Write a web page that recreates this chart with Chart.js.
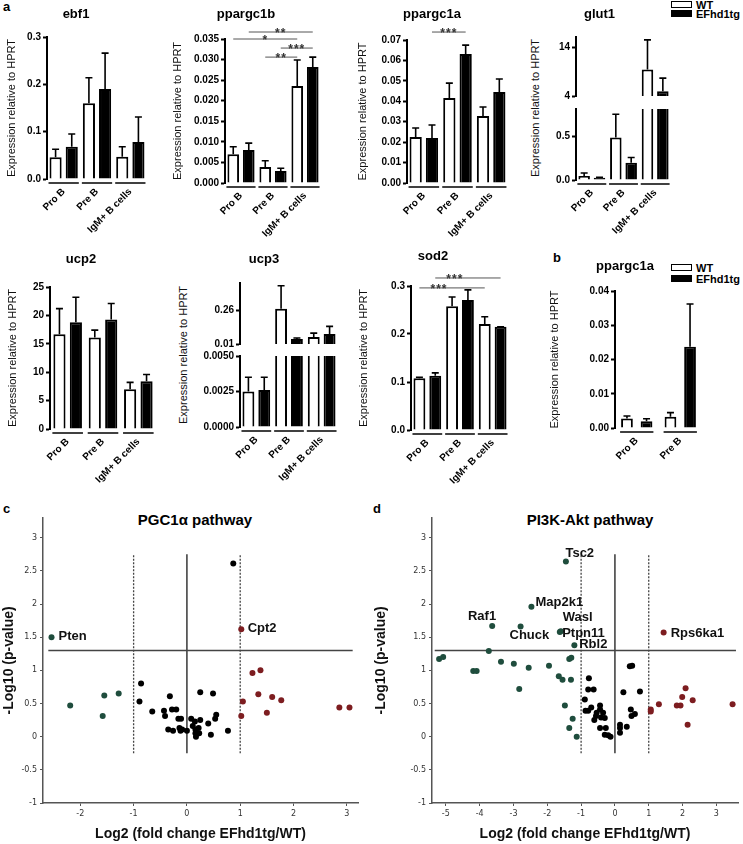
<!DOCTYPE html>
<html>
<head>
<meta charset="utf-8">
<script src="https://cdn.jsdelivr.net/npm/chart.js@4.4.1/dist/chart.umd.min.js"></script>
<style>
  body { margin: 0; width: 743px; height: 844px; position: relative; overflow: hidden; background: #fff;
         font-family: "Liberation Sans", Arial, sans-serif; color: #000; }
  canvas { position: absolute; }
  .letter { position: absolute; font-weight: bold; font-size: 13px; line-height: 13px; }
  .lg { position: absolute; font-weight: bold; font-size: 11px; line-height: 12px; white-space: nowrap; }
  .sw { position: absolute; width: 21px; box-sizing: border-box; border: 1.5px solid #000; }
  .ptitle { position: absolute; font-weight: bold; font-size: 15px; white-space: nowrap; transform: translate(-50%, -50%); }
  .vlab { position: absolute; font-size: 11px; color: #111; white-space: nowrap; transform: translate(-50%, -50%) rotate(-90deg); }
</style>
</head>
<body>
<div class="letter" style="left:3px;top:0px">a</div>
<div class="letter" style="left:553px;top:251px">b</div>
<div class="letter" style="left:3px;top:502px">c</div>
<div class="letter" style="left:373px;top:502px">d</div>

<div class="sw" style="left:671px;top:1px;height:7px;background:#fff"></div>
<div class="lg" style="left:696px;top:-1px">WT</div>
<div class="sw" style="left:671px;top:10px;height:7px;background:#000"></div>
<div class="lg" style="left:696px;top:8px">EFhd1tg</div>

<div class="sw" style="left:671px;top:264px;height:7px;background:#fff"></div>
<div class="lg" style="left:696px;top:262px">WT</div>
<div class="sw" style="left:671px;top:275px;height:7px;background:#000"></div>
<div class="lg" style="left:696px;top:273px">EFhd1tg</div>

<div class="vlab" style="left:535px;top:108px">Expression relative to HPRT</div>
<div class="vlab" style="left:183px;top:355px">Expression relative to HPRT</div>

<div class="ptitle" style="left:195px;top:519px">PGC1α pathway</div>
<div class="ptitle" style="left:590px;top:519px">PI3K-Akt pathway</div>

<script>
// ---------- data ----------
const groups = ["Pro B", "Pre B", "IgM+ B cells"];
const groupsB = ["Pro B", "Pre B"];
const yLabel = "Expression relative to HPRT";

// error arrays hold the top of each error bar (mean + SEM)
const ebf1WT = [0.046, 0.16, 0.047];
const ebf1WTErr = [0.063, 0.214, 0.068];
const ebf1Tg = [0.068, 0.19, 0.078];
const ebf1TgErr = [0.095, 0.266, 0.131];
const ebf1Ticks = ["0.0", "0.1", "0.2", "0.3"];

const ppargc1bWT = [0.0070, 0.0039, 0.0236];
const ppargc1bWTErr = [0.0088, 0.0054, 0.0299];
const ppargc1bTg = [0.0080, 0.0029, 0.0282];
const ppargc1bTgErr = [0.0097, 0.0036, 0.0306];
const ppargc1bTicks = ["0.000", "0.005", "0.010", "0.015", "0.020", "0.025", "0.030", "0.035"];
// [from group, from series, to group, to series, height, stars, label position along line]
const ppargc1bSig = [
  [0, 1, 2, 1, 0.0367, "**", 0.5],
  [0, 0, 2, 0, 0.0350, "*", 0.5],
  [1, 1, 2, 1, 0.0328, "***", 0.5],
  [1, 0, 2, 0, 0.0306, "**", 0.5],
];

const ppargc1aWT = [0.0225, 0.0416, 0.0328];
const ppargc1aWTErr = [0.0269, 0.0489, 0.0372];
const ppargc1aTg = [0.0220, 0.0631, 0.0445];
const ppargc1aTgErr = [0.0284, 0.0675, 0.0509];
const ppargc1aTicks = ["0.00", "0.01", "0.02", "0.03", "0.04", "0.05", "0.06", "0.07"];
const ppargc1aSig = [[0, 1, 1, 1, 0.0739, "***", 0.5]];

const glut1WT = [0.045, 0.49, 9.5];
const glut1WTErr = [0.08, 0.76, 15.6];
const glut1Tg = [0.025, 0.2, 5.0];
const glut1TgErr = [0.03, 0.26, 7.7];
const glut1LowTicks = ["0.0", "0.5"];
const glut1HighTicks = ["4", "14"];

const ucp2WT = [16.7, 16.1, 7.0];
const ucp2WTErr = [21.2, 17.4, 8.2];
const ucp2Tg = [18.8, 19.3, 8.4];
const ucp2TgErr = [23.2, 22.1, 9.6];
const ucp2Ticks = ["0", "5", "10", "15", "20", "25"];

const ucp3WT = [0.0025, 0.27, 0.061];
const ucp3WTErr = [0.0035, 0.44, 0.09];
const ucp3Tg = [0.0026, 0.047, 0.083];
const ucp3TgErr = [0.0035, 0.054, 0.14];
const ucp3LowTicks = ["0.0000", "0.0025", "0.0050"];
const ucp3HighTicks = ["0.01", "0.26"];

const sod2WT = [0.108, 0.258, 0.221];
const sod2WTErr = [0.110, 0.277, 0.236];
const sod2Tg = [0.113, 0.271, 0.215];
const sod2TgErr = [0.119, 0.292, 0.215];
const sod2Ticks = ["0.0", "0.1", "0.2", "0.3"];
const sod2Sig = [
  [0, 1, 2, 1, 0.3167, "***", 0.3],
  [0, 0, 2, 0, 0.2960, "***", 0.3],
];

const bWT = [0.0028, 0.0033];
const bWTErr = [0.0035, 0.0045];
const bTg = [0.0020, 0.0237];
const bTgErr = [0.0027, 0.0362];
const bTicks = ["0.00", "0.01", "0.02", "0.03", "0.04"];

// volcano plots: [log2 fold change, -log10 p]
const pValueTicks = ["-1", "-0.5", "0", "0.5", "1", "1.5", "2", "2.5", "3"];
const cFoldTicks = ["-2", "-1", "0", "1", "2", "3"];
const dFoldTicks = ["-5", "-4", "-3", "-2", "-1", "0", "1", "2", "3"];
const pThreshold = 1.3;

const cDown = [[-2.54, 1.50], [-2.19, 0.47], [-1.55, 0.62], [-1.58, 0.31], [-1.28, 0.65]];
const cNone = [
  [0.87, 2.61], [-0.86, 0.80], [-0.89, 0.53], [-0.65, 0.38], [-0.43, 0.39], [-0.41, 0.31],
  [-0.32, 0.61], [-0.28, 0.41], [-0.20, 0.41], [0.25, 0.67], [0.49, 0.65], [-0.35, 0.11],
  [-0.26, 0.09], [-0.16, 0.27], [-0.11, 0.27], [-0.14, 0.13], [-0.12, 0.09], [-0.09, 0.11],
  [0.00, 0.09], [0.08, 0.27], [0.11, 0.16], [0.15, 0.23], [0.16, 0.11], [0.22, 0.13],
  [0.25, 0.25], [0.16, 0.05], [0.17, 0.00], [0.23, 0.05], [0.40, 0.20], [0.45, 0.03],
  [0.53, 0.27], [0.55, 0.33], [0.77, 0.09],
];
const cUp = [
  [1.02, 1.62], [1.23, 0.96], [1.38, 1.00], [1.05, 0.53], [1.02, 0.31], [1.34, 0.64],
  [1.60, 0.60], [1.77, 0.55], [1.50, 0.36], [2.86, 0.44], [3.05, 0.44],
];
// [gene, x, y, align]
const cGenes = [["Pten", -2.41, 1.51, "left"], ["Cpt2", 1.14, 1.63, "left"]];

const dDown = [
  [-1.45, 2.64], [-2.47, 1.96], [-3.63, 1.67], [-2.79, 1.66], [-1.63, 1.58], [-1.60, 1.59],
  [-1.20, 1.38], [-5.20, 1.17], [-5.08, 1.20], [-3.73, 1.29], [-3.37, 1.13], [-2.99, 1.10],
  [-2.55, 1.04], [-1.95, 1.07], [-4.19, 0.99], [-4.09, 0.99], [-2.83, 0.72], [-1.66, 0.91],
  [-1.55, 0.86], [-1.35, 1.17], [-1.29, 1.19], [-1.30, 0.86], [-1.48, 0.47], [-1.25, 0.27],
  [-1.35, 0.13], [-1.13, 0.00],
];
const dNone = [
  [-0.77, 0.88], [-0.79, 0.71], [-0.63, 0.71], [-0.89, 0.56], [-0.87, 0.39], [-0.79, 0.39],
  [-0.70, 0.44], [-0.44, 0.47], [-0.44, 0.41], [-0.54, 0.36], [-0.56, 0.31], [-0.41, 0.29],
  [-0.35, 0.36], [-0.30, 0.28], [-0.61, 0.25], [-0.44, 0.13], [-0.27, 0.13], [-0.30, 0.03],
  [-0.20, 0.02], [-0.13, 0.00], [0.15, 0.18], [0.15, 0.13], [0.15, 0.06], [0.25, 0.67],
  [0.35, 0.15], [0.44, 1.06], [0.51, 1.07], [0.47, 0.41], [0.49, 0.31], [0.59, 0.34],
  [0.74, 0.68],
];
const dUp = [
  [1.44, 1.57], [1.06, 0.41], [1.06, 0.38], [1.30, 0.49], [1.83, 0.47], [1.94, 0.47],
  [1.99, 0.60], [2.09, 0.73], [2.30, 0.55], [2.15, 0.18], [3.48, 0.49],
];
const dGenes = [
  ["Tsc2", -1.04, 2.76, "center"], ["Map2k1", -2.35, 2.02, "left"], ["Raf1", -3.93, 1.81, "center"],
  ["Chuck", -2.53, 1.52, "center"], ["Wasl", -1.10, 1.80, "center"], ["Ptpn11", -0.93, 1.55, "center"],
  ["Rbl2", -0.64, 1.39, "center"], ["Rps6ka1", 1.65, 1.55, "left"],
];

// ---------- drawing ----------
Chart.defaults.font.family = '"Liberation Sans", Arial, sans-serif';
Chart.defaults.color = "#000";
Chart.defaults.animation = false;

function makeCanvas(left, top, width, height) {
  const c = document.createElement("canvas");
  c.width = width;
  c.height = height;
  c.style.left = left + "px";
  c.style.top = top + "px";
  c.style.width = width + "px";
  c.style.height = height + "px";
  document.body.appendChild(c);
  return c;
}

const errorBars = {
  id: "errorBars",
  afterDatasetsDraw(chart) {
    const { ctx, chartArea: a, scales: { y } } = chart;
    ctx.save();
    ctx.beginPath();
    ctx.rect(a.left, a.top - 2, a.right - a.left, a.bottom - a.top + 2);
    ctx.clip();
    ctx.strokeStyle = "#000";
    ctx.lineWidth = 1.6;
    chart.data.datasets.forEach((ds, i) => {
      chart.getDatasetMeta(i).data.forEach((bar, j) => {
        const top = y.getPixelForValue(ds.errors[j]);
        ctx.beginPath();
        ctx.moveTo(bar.x, bar.y);
        ctx.lineTo(bar.x, top);
        ctx.moveTo(bar.x - 3.5, top);
        ctx.lineTo(bar.x + 3.5, top);
        ctx.stroke();
      });
    });
    ctx.restore();
  },
};

function groupLines(show) {
  return {
    id: "groupLines",
    afterDatasetsDraw(chart) {
      if (!show) {
        return;
      }
      const { ctx, chartArea: a } = chart;
      const first = chart.getDatasetMeta(0).data;
      const second = chart.getDatasetMeta(1).data;
      ctx.save();
      ctx.strokeStyle = "#000";
      ctx.lineWidth = 1.5;
      first.forEach((bar, i) => {
        ctx.beginPath();
        ctx.moveTo(bar.x - bar.width / 2 - 1, a.bottom + 4);
        ctx.lineTo(second[i].x + second[i].width / 2 + 1, a.bottom + 4);
        ctx.stroke();
      });
      ctx.restore();
    },
  };
}

function sigLines(lines) {
  return {
    id: "sigLines",
    afterDatasetsDraw(chart) {
      const { ctx, scales: { y } } = chart;
      ctx.save();
      ctx.strokeStyle = "#555";
      ctx.lineWidth = 1;
      ctx.fillStyle = "#333";
      ctx.font = 'bold 12px "Liberation Sans", Arial, sans-serif';
      ctx.letterSpacing = "1px";
      ctx.textAlign = "center";
      ctx.textBaseline = "alphabetic";
      lines.forEach(([g1, s1, g2, s2, value, stars, t]) => {
        const x1 = chart.getDatasetMeta(s1).data[g1].x;
        const x2 = chart.getDatasetMeta(s2).data[g2].x;
        const py = y.getPixelForValue(value);
        ctx.beginPath();
        ctx.moveTo(x1, py);
        ctx.lineTo(x2, py);
        ctx.stroke();
        ctx.fillText(stars, x1 + (x2 - x1) * t, py + 5);
      });
      ctx.restore();
    },
  };
}

function barPanel(p) {
  const canvas = makeCanvas(p.left, p.top, p.width, p.height);
  const ticks = p.ticks;
  return new Chart(canvas, {
    type: "bar",
    data: {
      labels: p.labels,
      datasets: [
        { label: "WT", data: p.wt, errors: p.wtErr, backgroundColor: "#fff", borderColor: "#000", borderWidth: 2, clip: 0 },
        { label: "EFhd1tg", data: p.tg, errors: p.tgErr, backgroundColor: "#000", borderColor: "#000", borderWidth: 2, clip: 0 },
      ],
    },
    options: {
      responsive: false,
      animation: false,
      datasets: { bar: { categoryPercentage: p.cat || 0.97, barPercentage: p.bar || 0.75 } },
      layout: { padding: { top: p.padTop || 0, right: p.padRight, bottom: p.padBottom || 0, left: 0 } },
      plugins: {
        legend: { display: false },
        tooltip: { enabled: false },
        title: {
          display: !!p.title,
          text: p.title || "",
          color: "#000",
          font: { size: 13, weight: "bold" },
          padding: { top: 0, bottom: p.titleGap || 0 },
        },
      },
      scales: {
        x: {
          display: p.showX,
          offset: true,
          grid: { display: false, drawTicks: false },
          border: { display: false },
          ticks: { minRotation: 45, maxRotation: 45, autoSkip: false, padding: 7, color: "#000", font: { size: 10, weight: "bold" } },
          afterFit: p.showX ? (s) => { s.height = p.xh; } : undefined,
        },
        y: {
          min: p.min,
          max: p.max,
          border: { color: "#000", width: 2 },
          grid: { drawOnChartArea: false, tickLength: 4, tickWidth: 2, tickColor: "#000" },
          ticks: { padding: 2, autoSkip: false, color: "#000", font: { size: 10, weight: "bold" }, callback: (v, i) => ticks[i] },
          afterBuildTicks: (s) => { s.ticks = ticks.map((t) => ({ value: parseFloat(t) })); },
          afterFit: (s) => { s.width = p.yw; },
          title: { display: p.yTitle !== false, text: yLabel, color: "#111", font: { size: 11 }, padding: { top: 0, bottom: 0 } },
        },
      },
    },
    plugins: [errorBars, groupLines(p.showX), sigLines(p.sig || [])],
  });
}

function volcanoLines(p) {
  return {
    id: "volcanoLines",
    beforeDatasetsDraw(chart) {
      const { ctx, scales: { x, y } } = chart;
      ctx.save();
      ctx.strokeStyle = "#444";
      ctx.lineWidth = 1.6;
      ctx.beginPath();
      ctx.moveTo(x.getPixelForValue(p.hFrom), y.getPixelForValue(pThreshold));
      ctx.lineTo(x.getPixelForValue(p.hTo), y.getPixelForValue(pThreshold));
      ctx.stroke();
      [[-1, true], [0, false], [1, true]].forEach(([fold, dashed]) => {
        ctx.setLineDash(dashed ? [2, 1.5] : []);
        ctx.lineWidth = dashed ? 1.3 : 1.6;
        ctx.beginPath();
        ctx.moveTo(x.getPixelForValue(fold), y.getPixelForValue(-0.25));
        ctx.lineTo(x.getPixelForValue(fold), y.getPixelForValue(2.75));
        ctx.stroke();
      });
      ctx.restore();
    },
    afterDatasetsDraw(chart) {
      const { ctx, scales: { x, y } } = chart;
      ctx.save();
      ctx.fillStyle = "#111";
      ctx.font = 'bold 13px "Liberation Sans", Arial, sans-serif';
      ctx.textBaseline = "middle";
      p.genes.forEach(([name, gx, gy, align]) => {
        ctx.textAlign = align;
        ctx.fillText(name, x.getPixelForValue(gx), y.getPixelForValue(gy));
      });
      ctx.restore();
    },
  };
}

function scatterPanel(p) {
  const canvas = makeCanvas(p.left, p.top, p.width, p.height);
  const pts = (list) => list.map(([x, y]) => ({ x, y }));
  const dot = { pointRadius: 3, borderWidth: 0 };
  const tickFont = { family: '"DejaVu Sans", Verdana, sans-serif', size: 8 };
  const axisFont = { size: 14, weight: "bold" };
  return new Chart(canvas, {
    type: "scatter",
    data: {
      datasets: [
        { data: pts(p.down), backgroundColor: "#1f4d3d", ...dot },
        { data: pts(p.none), backgroundColor: "#000", ...dot },
        { data: pts(p.up), backgroundColor: "#7d1d20", ...dot },
      ],
    },
    options: {
      responsive: false,
      animation: false,
      layout: { padding: { top: 7, right: p.padRight, bottom: 0, left: 0 } },
      plugins: { legend: { display: false }, tooltip: { enabled: false } },
      scales: {
        x: {
          type: "linear",
          min: p.xMin,
          max: p.xMax,
          border: { color: "#555", width: 1.5 },
          grid: { drawOnChartArea: false, tickLength: 3, tickColor: "#555" },
          ticks: { autoSkip: false, padding: 3, color: "#333", font: tickFont, callback: (v, i) => p.xTicks[i] },
          afterBuildTicks: (s) => { s.ticks = p.xTicks.map((t) => ({ value: parseFloat(t) })); },
          afterFit: (s) => { s.height = 41; },
          title: { display: true, text: "Log2 (fold change EFhd1tg/WT)", color: "#111", font: axisFont, padding: { top: 0, bottom: 1 } },
        },
        y: {
          type: "linear",
          min: -1,
          max: 3.3,
          border: { color: "#555", width: 1.5 },
          grid: { drawOnChartArea: false, tickLength: 3, tickColor: "#555" },
          ticks: { autoSkip: false, padding: 3, color: "#333", font: tickFont, callback: (v, i) => pValueTicks[i] },
          afterBuildTicks: (s) => { s.ticks = pValueTicks.map((t) => ({ value: parseFloat(t) })); },
          afterFit: (s) => { s.width = p.yw; },
          title: { display: true, text: "-Log10 (p-value)", color: "#111", font: axisFont, padding: { top: p.yTitlePad, bottom: 0 } },
        },
      },
    },
    plugins: [volcanoLines(p)],
  });
}

// panel a, top row
barPanel({ left: 5, top: 7, width: 162, height: 232, yw: 42, padRight: 20, titleGap: 14.4, xh: 60,
  title: "ebf1", labels: groups, wt: ebf1WT, wtErr: ebf1WTErr, tg: ebf1Tg, tgErr: ebf1TgErr,
  min: 0, max: 0.3, ticks: ebf1Ticks, showX: true });
barPanel({ left: 171, top: 7, width: 158, height: 236, yw: 54, padRight: 8, titleGap: 16.4, xh: 60,
  title: "ppargc1b", labels: groups, wt: ppargc1bWT, wtErr: ppargc1bWTErr, tg: ppargc1bTg, tgErr: ppargc1bTgErr,
  min: 0, max: 0.035, ticks: ppargc1bTicks, showX: true, sig: ppargc1bSig });
barPanel({ left: 356, top: 7, width: 178, height: 236, yw: 51, padRight: 26, titleGap: 17.4, xh: 60,
  title: "ppargc1a", labels: groups, wt: ppargc1aWT, wtErr: ppargc1aWTErr, tg: ppargc1aTg, tgErr: ppargc1aTgErr,
  min: 0, max: 0.07, ticks: ppargc1aTicks, showX: true, sig: ppargc1aSig });
// glut1, broken axis: upper and lower segments
barPanel({ left: 528, top: 7, width: 150, height: 97, yw: 48, padRight: 7, titleGap: 14.4, padBottom: 7,
  title: "glut1", labels: groups, wt: glut1WT, wtErr: glut1WTErr, tg: glut1Tg, tgErr: glut1TgErr,
  min: 4, max: 16.2, ticks: glut1HighTicks, showX: false, yTitle: false });
barPanel({ left: 528, top: 101, width: 150, height: 137, yw: 48, padRight: 7, padTop: 7, xh: 58,
  labels: groups, wt: glut1WT, wtErr: glut1WTErr, tg: glut1Tg, tgErr: glut1TgErr,
  min: 0, max: 0.82, ticks: glut1LowTicks, showX: true, yTitle: false });

// panel a, bottom row
barPanel({ left: 6, top: 252, width: 164, height: 235, yw: 44, padRight: 14, titleGap: 19.4, xh: 58,
  title: "ucp2", labels: groups, wt: ucp2WT, wtErr: ucp2WTErr, tg: ucp2Tg, tgErr: ucp2TgErr,
  min: 0, max: 25, ticks: ucp2Ticks, showX: true, cat: 0.93, bar: 0.74 });
// ucp3, broken axis
barPanel({ left: 190, top: 252, width: 154, height: 100, yw: 50, padRight: 6, titleGap: 15.4, padBottom: 7,
  title: "ucp3", labels: groups, wt: ucp3WT, wtErr: ucp3WTErr, tg: ucp3Tg, tgErr: ucp3TgErr,
  min: 0.01, max: 0.46, ticks: ucp3HighTicks, showX: false, yTitle: false });
barPanel({ left: 190, top: 348, width: 154, height: 137, yw: 50, padRight: 6, padTop: 7, xh: 58,
  labels: groups, wt: ucp3WT, wtErr: ucp3WTErr, tg: ucp3Tg, tgErr: ucp3TgErr,
  min: 0, max: 0.005, ticks: ucp3LowTicks, showX: true, yTitle: false });
barPanel({ left: 357, top: 249, width: 180, height: 239, yw: 54, padRight: 28, titleGap: 21.4, xh: 58,
  title: "sod2", labels: groups, wt: sod2WT, wtErr: sod2WTErr, tg: sod2Tg, tgErr: sod2TgErr,
  min: 0, max: 0.3, ticks: sod2Ticks, showX: true, sig: sod2Sig });

// panel b
barPanel({ left: 548, top: 259, width: 158, height: 227, yw: 67, padRight: 4, titleGap: 16.4, xh: 58,
  title: "ppargc1a", labels: groupsB, wt: bWT, wtErr: bWTErr, tg: bTg, tgErr: bTgErr,
  min: 0, max: 0.04, ticks: bTicks, showX: true, cat: 0.9, bar: 0.6 });

// panels c and d
scatterPanel({ left: 0, top: 510, width: 370, height: 334, yw: 43, padRight: 12, yTitlePad: 1,
  xMin: -2.7, xMax: 3.21, xTicks: cFoldTicks, hFrom: -2.6, hTo: 3.11,
  down: cDown, none: cNone, up: cUp, genes: cGenes });
scatterPanel({ left: 370, top: 510, width: 373, height: 334, yw: 62, padRight: 5, yTitlePad: 3,
  xMin: -5.41, xMax: 3.64, xTicks: dFoldTicks, hFrom: -5.33, hTo: 3.58,
  down: dDown, none: dNone, up: dUp, genes: dGenes });
</script>
</body>
</html>
